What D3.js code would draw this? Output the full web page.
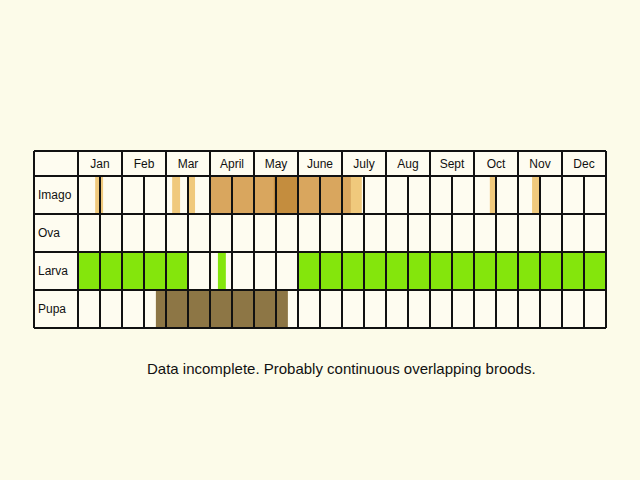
<!DOCTYPE html>
<html><head><meta charset="utf-8">
<script src="https://cdn.jsdelivr.net/npm/d3@7"></script>
<style>body{margin:0;background:#fcfbe9}</style></head>
<body><svg width="640" height="480"></svg>
<script>
const months = ["Jan","Feb","Mar","April","May","June","July","Aug","Sept","Oct","Nov","Dec"];
const stages = ["Imago","Ova","Larva","Pupa"];
// bands: start, end (in months from Jan 1), colour
const imagoBands = [
  [0.39,0.57,"#f0c97c"],[2.14,2.32,"#f0c97c"],[2.5,2.66,"#f0c97c"],
  [3.0,6.45,"#f0c97c"],[3.0,6.2,"#d9a65e"],[4.45,5.0,"#c48d3e"],
  [9.36,9.52,"#f0c97c"],[10.32,10.5,"#f0c97c"]
];
const larvaBands = [[0,2.5,"#84e60c"],[3.18,3.36,"#84e60c"],[5.0,12,"#84e60c"]];
const pupaBands = [[1.77,4.77,"#8d7645"]];
const note = "Data incomplete. Probably continuous overlapping broods.";

const svg = d3.select("svg");
const x = d3.scaleLinear().domain([0,12]).range([78,606]);
const y = d3.scaleBand().domain(stages).range([176,328]);
const gridLeft = 34, gridTop = 151;

svg.append("rect").attr("x",gridLeft).attr("y",gridTop).attr("width",606-gridLeft).attr("height",328-gridTop).attr("fill","#fefcf0");

const bands = [["Imago",imagoBands],["Larva",larvaBands],["Pupa",pupaBands]];
bands.forEach(([s,list]) => {
  svg.selectAll(null).data(list).enter().append("rect")
    .attr("x",d=>x(d[0])).attr("width",d=>x(d[1])-x(d[0]))
    .attr("y",y(s)).attr("height",y.bandwidth()).attr("fill",d=>d[2]);
});

const g = svg.append("g").attr("stroke","#111").attr("stroke-width",2);
[gridTop].concat(stages.map(s=>y(s)), [328]).forEach(v=>
  g.append("line").attr("x1",gridLeft).attr("x2",606).attr("y1",v).attr("y2",v));
g.append("line").attr("x1",gridLeft).attr("x2",gridLeft).attr("y1",gridTop).attr("y2",328);
d3.range(0,25).forEach(k=>{
  const full = k%2===0;
  g.append("line").attr("x1",x(k/2)).attr("x2",x(k/2))
    .attr("y1",full?gridTop:176).attr("y2",328);
});

svg.selectAll(".m").data(months).enter().append("text")
  .attr("x",(d,i)=>x(i+0.5)).attr("y",168).attr("text-anchor","middle")
  .attr("font-family","Liberation Sans, Arial").attr("font-size",12).attr("fill","#111").text(d=>d);
svg.selectAll(".s").data(stages).enter().append("text")
  .attr("x",38).attr("y",d=>y(d)+y.bandwidth()/2+4)
  .attr("font-family","Liberation Sans, Arial").attr("font-size",12).attr("fill","#111").text(d=>d);
svg.append("text").attr("x",147).attr("y",374)
  .attr("font-family","Liberation Sans, Arial").attr("font-size",15).attr("fill","#111").text(note);
</script></body></html>
